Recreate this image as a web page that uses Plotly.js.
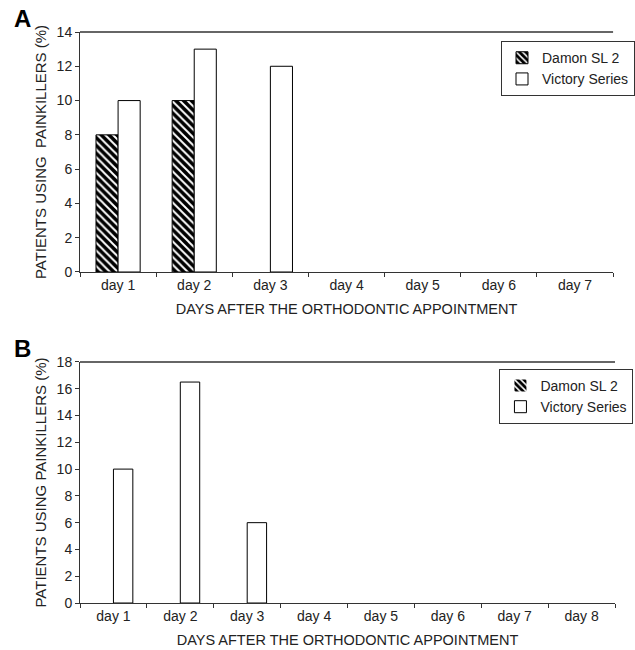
<!DOCTYPE html>
<html><head><meta charset="utf-8">
<script src="https://cdn.plot.ly/plotly-3.0.1.min.js"></script>
<style>body{margin:0;background:#fff}#c{width:635px;height:650px}</style>
</head><body><div id="c"></div>
<script>
const daysA = ["day 1","day 2","day 3","day 4","day 5","day 6","day 7"];
const damonA = [8,10,0,0,0,0,0];
const victoryA = [10,13,12,0,0,0,0];
const daysB = ["day 1","day 2","day 3","day 4","day 5","day 6","day 7","day 8"];
const damonB = [0,0,0,0,0,0,0,0];
const victoryB = [10,16.5,6,0,0,0,0,0];
const seriesNames = ["Damon SL 2","Victory Series"];
const yTitle = ["PATIENTS USING  PAINKILLERS (%)","PATIENTS USING PAINKILLERS (%)"];
const xTitle = "DAYS AFTER THE ORTHODONTIC APPOINTMENT";

const F = "Liberation Sans, Arial, sans-serif";
const lw = v => v.map(d => d === 0 ? 0 : 1);
function hatch(v){ return {color:"#000", line:{color:"#000",width:lw(v)}, pattern:{shape:"\\", fgcolor:"#fff", bgcolor:"#000", size:5.5, solidity:0.35, fillmode:"replace"}}; }
function plain(v){ return {color:"#fff", line:{color:"#000",width:lw(v)}}; }

const traces = [
  {type:"bar", x:daysA, y:damonA, name:seriesNames[0], marker:hatch(damonA), xaxis:"x", yaxis:"y", legend:"legend"},
  {type:"bar", x:daysA, y:victoryA, name:seriesNames[1], marker:plain(victoryA), xaxis:"x", yaxis:"y", legend:"legend"},
  {type:"bar", x:daysB, y:damonB, name:seriesNames[0], marker:hatch(damonB), xaxis:"x2", yaxis:"y2", legend:"legend2"},
  {type:"bar", x:daysB, y:victoryB, name:seriesNames[1], marker:plain(victoryB), xaxis:"x2", yaxis:"y2", legend:"legend2"}
];

const tickF = {family:F, size:14, color:"#222"};
const titleF = {family:F, size:14.5, color:"#222"};
function xax(domain, anchor){
  return {domain:domain, anchor:anchor, showline:true, linecolor:"#333", linewidth:1, ticks:"outside", tickson:"boundaries", ticklen:4, tickcolor:"#333", tickfont:tickF, showgrid:false, zeroline:false, fixedrange:true,
    title:{text:xTitle, font:titleF, standoff:12}};
}
function yax(domain, anchor, range, dtick, t){
  return {domain:domain, anchor:anchor, range:range, dtick:dtick, showline:true, linecolor:"#333", linewidth:1, ticks:"outside", ticklen:4, tickcolor:"#333", tickfont:tickF, showgrid:false, zeroline:false,
    title:{text:t, font:{family:F, size:15, color:"#222"}, standoff:6}};
}
const legF = {family:F, size:14, color:"#222"};
const layout = {
  width:635, height:650, margin:{l:80, r:0, t:32, b:47},
  paper_bgcolor:"#fff", plot_bgcolor:"#fff",
  barmode:"group", bargap:0.42, bargroupgap:0,
  xaxis: xax([0, 0.9964], "y"),
  yaxis: yax([0.5797, 1], "x", [0,14], 2, yTitle[0]),
  xaxis2: xax([0, 1], "y2"),
  yaxis2: yax([0, 0.4221], "x2", [0,18], 2, yTitle[1]),
  legend: {x:0.787, y:0.984, xanchor:"left", yanchor:"top", bgcolor:"#fff", bordercolor:"#333", borderwidth:1, font:legF, tracegroupgap:0, itemwidth:30},
  legend2: {x:0.784, y:0.41, xanchor:"left", yanchor:"top", bgcolor:"#fff", bordercolor:"#333", borderwidth:1, font:legF, tracegroupgap:0, itemwidth:30},
  shapes:[
    {type:"line", xref:"x domain", yref:"y domain", x0:0, x1:1, y0:1, y1:1, line:{color:"#333", width:1.5}},
    {type:"line", xref:"x2 domain", yref:"y2 domain", x0:0, x1:1, y0:1, y1:1, line:{color:"#333", width:1.5}}
  ],
  annotations:[
    {text:"<b>A</b>", xref:"paper", yref:"paper", x:-0.128, y:1.024, xanchor:"left", yanchor:"middle", showarrow:false, font:{family:F, size:24, color:"#000"}},
    {text:"<b>B</b>", xref:"paper", yref:"paper", x:-0.128, y:0.445, xanchor:"left", yanchor:"middle", showarrow:false, font:{family:F, size:24, color:"#000"}}
  ],
  showlegend:true
};
Plotly.newPlot("c", traces, layout, {displayModeBar:false, staticPlot:true});
</script></body></html>
